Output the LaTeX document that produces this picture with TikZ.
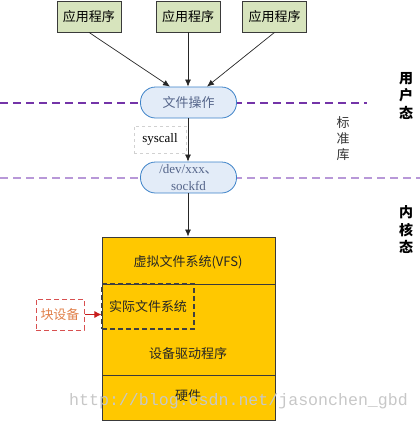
\documentclass[tikz,border=0pt]{standalone}
\usepackage{fontspec}
\setmainfont{Liberation Serif}
\newfontfamily\cjk{Noto Sans CJK SC}
\newfontfamily\wmfont{Liberation Mono}
\usetikzlibrary{arrows.meta,calc}
\definecolor{appfill}{HTML}{D7E4BD}
\definecolor{appline}{HTML}{3A3A3A}
\definecolor{pillfill}{HTML}{E3ECF8}
\definecolor{pillline}{HTML}{3C82C8}
\definecolor{pilltext}{HTML}{55658A}
\definecolor{purpA}{HTML}{7434A8}
\definecolor{purpB}{HTML}{B898D8}
\definecolor{kfill}{HTML}{FFC800}
\definecolor{kline}{HTML}{3A3A3A}
\definecolor{blkline}{HTML}{D85050}
\definecolor{blktext}{HTML}{E0804A}
\definecolor{redarrow}{HTML}{C81E1E}
\tikzset{
  appbox/.style={draw=appline, fill=appfill, line width=0.8pt, minimum width=64pt, minimum height=31pt, inner sep=0pt, font=\cjk\fontsize{13}{15}\selectfont},
  pill/.style={draw=pillline, fill=pillfill, rounded corners=15pt, minimum width=96pt, minimum height=31pt, inner sep=0pt, line width=0.8pt, text=pilltext},
  conn/.style={line width=0.7pt, draw=black!85, -{Latex[length=7pt,width=6pt]}},
  plain/.style={line width=0.7pt, draw=black!85},
  layer/.style={draw=kline, fill=kfill, line width=0.9pt, minimum width=173pt, inner sep=0pt},
  ktext/.style={font=\cjk\fontsize{13}{15}\selectfont, text=black!85, inner sep=0pt},
  vert/.style={align=center, inner sep=0pt},
}
\begin{document}
\begin{tikzpicture}[x=1pt,y=-1pt]
\useasboundingbox (0,0) rectangle (420,421);
% mode separators
\draw[purpA, line width=1.3pt, dash pattern=on 8pt off 5pt] (0,103) -- (367,103);
\draw[purpB, line width=1.3pt, dash pattern=on 8pt off 5pt] (0,178) -- (420,178);

% application boxes
\node[appbox] (app1) at (89,16.5) {应用程序};
\node[appbox] (app2) at (188,16.5) {应用程序};
\node[appbox] (app3) at (274.5,16.5) {应用程序};

% file operation
\node[pill, font=\cjk\fontsize{13}{15}\selectfont] (fileop) at (188.5,102.5) {文件操作};
\node[pill, align=center, font=\fontsize{13}{17}\selectfont] (dev) at (188.5,177.5) {/dev/xxx{\cjk 、}\\sockfd};

\node[draw=black!18, dashed, line width=0.8pt, minimum width=52pt, minimum height=27pt, inner sep=0pt, font=\fontsize{13}{15}\selectfont] (sys) at (160,139.5) {syscall};

% kernel stack
\node[layer, minimum height=47pt] (vfs) at (188.5,260.5) {};
\node[layer, minimum height=91pt] (drv) at (188.5,329.5) {};
\node[layer, minimum height=45pt] (hw) at (188.5,397.5) {};
\node[ktext] (vfst) at (188,262) {虚拟文件系统(VFS)};
\node[ktext] (drvt) at (188,354) {设备驱动程序};
\node[ktext] (hwt) at (188,396) {硬件};

\node[draw=black!75, dashed, line width=1.1pt, dash pattern=on 5pt off 3pt, minimum width=92pt, minimum height=45pt, inner sep=0pt, ktext] (realfs) at (148,306.5) {实际文件系统};

\node[draw=blkline, dash pattern=on 5pt off 3pt, line width=1pt, minimum width=48pt, minimum height=31pt, inner sep=0pt, text=blktext, font=\cjk\fontsize{13}{15}\selectfont] (blk) at (60,314.5) {块设备};

% connectors
\draw[conn] (app1.south) -- ([xshift=-18.5pt]fileop.north);
\draw[conn] (app2.south) -- (fileop.north -| app2.south);
\draw[conn] (app3.south) -- ([xshift=18.5pt]fileop.north);
\draw[conn] (fileop.south -| app2.south) -- (dev.north -| app2.south);
\draw[conn] (dev.south -| app2.south) -- (vfs.north -| app2.south);
\draw[line width=0.9pt, redarrow, -{Latex[length=7pt,width=7pt]}] (blk.east) -- (blk.east -| realfs.west);

% side labels
\node[vert, font=\cjk\fontsize{13}{16}\selectfont, text=black!80] (lib) at (343,139) {标\\准\\库};
\node[vert, font=\cjk\bfseries\fontsize{14}{17.5}\selectfont] (user) at (406,95.5) {用\\户\\态};
\node[vert, font=\cjk\bfseries\fontsize{14}{17.5}\selectfont] (kern) at (406,230) {内\\核\\态};

% watermark
\node[anchor=base west, inner sep=0pt, text=black!22, font=\wmfont\fontsize{16.6}{18}\selectfont] (wm) at (69,405) {http://blog.csdn.net/jasonchen\_gbd};
\end{tikzpicture}
\end{document}
